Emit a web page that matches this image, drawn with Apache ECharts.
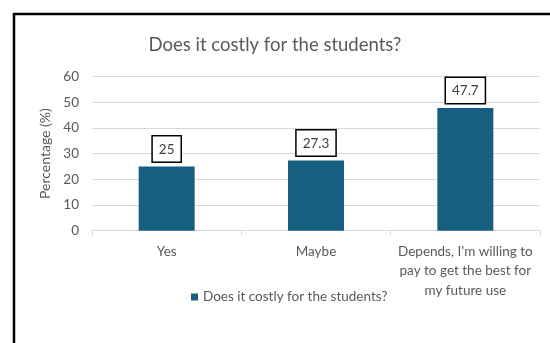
<!DOCTYPE html>
<html>
<head>
<meta charset="utf-8">
<script src="https://cdn.jsdelivr.net/npm/echarts@6/dist/echarts.min.js"></script>
<style>
  html, body { margin: 0; padding: 0; background: #fff; }
  #chart { width: 550px; height: 343px; }
</style>
</head>
<body>
<div id="chart"></div>
<script>
const categories = ['Yes', 'Maybe', 'Depends, I\u2019m willing to\npay to get the best for\nmy future use'];
const values = [25, 27.3, 47.7];
const seriesName = 'Does it costly for the students?';
const titleText = 'Does it costly for the students?';
const yTicks = { min: 0, max: 60, interval: 10 };

const FONT = 'Lato, "Open Sans", sans-serif';
const chart = echarts.init(document.getElementById('chart'), null, { renderer: 'canvas' });

chart.setOption({
  animation: false,
  backgroundColor: '#ffffff',
  graphic: [{
    type: 'rect',
    shape: { x: 14, y: 14, width: 560, height: 360 },
    style: { fill: 'none', stroke: '#000000', lineWidth: 2.5 },
    z: 100
  }],
  title: {
    text: titleText,
    left: 'center',
    top: 31,
    textStyle: { fontFamily: FONT, fontSize: 18.5, fontWeight: 'normal', color: '#595959' }
  },
  legend: {
    data: [seriesName],
    top: 285,
    left: 186,
    itemWidth: 7,
    itemHeight: 7,
    itemGap: 5,
    icon: 'rect',
    textStyle: { fontFamily: FONT, fontSize: 13.5, color: '#595959' }
  },
  grid: { left: 92, right: 10, top: 76.5, bottom: 112.3, containLabel: false },
  xAxis: {
    type: 'category',
    data: categories,
    axisLine: { lineStyle: { color: '#d9d9d9', width: 1 } },
    axisTick: { show: true, length: 5, lineStyle: { color: '#d9d9d9' } },
    axisLabel: {
      fontFamily: FONT, fontSize: 13.5, color: '#595959',
      lineHeight: 19.5, margin: 11, interval: 0
    }
  },
  yAxis: {
    type: 'value',
    min: yTicks.min, max: yTicks.max, interval: yTicks.interval,
    name: 'Percentage (%)',
    nameLocation: 'middle',
    nameGap: 38,
    nameTextStyle: { fontFamily: FONT, fontSize: 14, color: '#595959' },
    axisLine: { show: false },
    axisTick: { show: false },
    axisLabel: { fontFamily: FONT, fontSize: 13.5, color: '#595959', margin: 13 },
    splitLine: { lineStyle: { color: '#d9d9d9', width: 1 } }
  },
  series: [{
    name: seriesName,
    type: 'bar',
    data: values,
    barWidth: '37.5%',
    itemStyle: { color: '#175F80' },
    label: {
      show: true,
      position: 'top',
      distance: 5,
      fontFamily: FONT,
      fontSize: 13.5,
      color: '#404040',
      backgroundColor: '#ffffff',
      borderColor: '#000000',
      borderWidth: 1.5,
      padding: [6, 6, 5, 6]
    }
  }]
});
</script>
</body>
</html>
